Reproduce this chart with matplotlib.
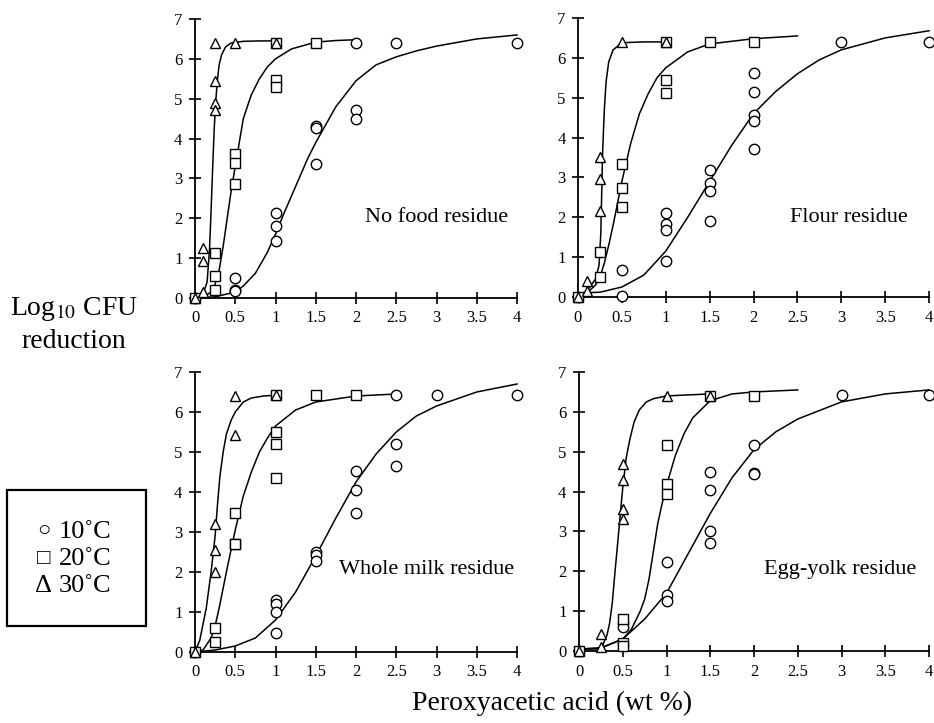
import matplotlib
matplotlib.use("Agg")
import matplotlib.pyplot as plt

plt.rcParams['font.family'] = ['Liberation Serif', 'DejaVu Serif']

# ---- No food residue ----
nf_c_x = [0, 0.5, 0.5, 0.5, 1, 1, 1, 1.5, 1.5, 1.5, 2, 2, 2, 2.5, 4]
nf_c_y = [0, 0.5, 0.21, 0.17, 2.13, 1.80, 1.42, 4.32, 4.26, 3.36, 4.72, 4.49, 6.41, 6.41, 6.41]
nf_s_x = [0, 0.25, 0.25, 0.25, 0.5, 0.5, 0.5, 1, 1, 1, 1.5]
nf_s_y = [0, 1.13, 0.54, 0.21, 3.62, 3.38, 2.86, 6.41, 5.47, 5.29, 6.41]
nf_t_x = [0, 0.1, 0.1, 0.1, 0.25, 0.25, 0.25, 0.25, 0.5, 1]
nf_t_y = [0, 1.25, 0.92, 0.14, 6.41, 5.45, 4.89, 4.72, 6.41, 6.41]
nf_cc_x = [0, 0.25, 0.5, 0.6, 0.75, 0.9, 1.0, 1.1, 1.25, 1.4, 1.5, 1.75, 2.0, 2.25, 2.5, 2.75, 3.0, 3.5, 4.0]
nf_cc_y = [0, 0.03, 0.15, 0.3, 0.62, 1.15, 1.6, 2.1, 2.8, 3.5, 3.9, 4.8, 5.45, 5.85, 6.05, 6.2, 6.32, 6.5, 6.6]
nf_sc_x = [0, 0.1, 0.2, 0.25, 0.3, 0.35, 0.4, 0.45, 0.5, 0.55, 0.6, 0.7, 0.8, 0.9, 1.0, 1.2, 1.5, 1.75, 2.0]
nf_sc_y = [0, 0.02, 0.15, 0.35, 0.7, 1.3, 2.0, 2.7, 3.3, 3.9, 4.5, 5.1, 5.5, 5.8, 6.0, 6.25, 6.42, 6.46, 6.48]
nf_tc_x = [0, 0.1, 0.15, 0.18, 0.2, 0.22, 0.24, 0.26, 0.28, 0.3, 0.33, 0.38, 0.45, 0.6, 0.8, 1.0]
nf_tc_y = [0, 0.1, 0.4, 1.2, 2.2, 3.3, 4.3, 5.0, 5.5, 5.85, 6.1, 6.3, 6.4, 6.44, 6.45, 6.45]

# ---- Flour residue ----
fl_c_x = [0, 0.5, 0.5, 1, 1, 1, 1, 1.5, 1.5, 1.5, 1.5, 2, 2, 2, 2, 2, 3, 4]
fl_c_y = [0, 0.67, 0.03, 2.10, 1.82, 1.68, 0.91, 3.19, 2.86, 2.66, 1.90, 5.63, 5.15, 4.56, 4.42, 3.72, 6.39, 6.39]
fl_s_x = [0, 0.25, 0.25, 0.5, 0.5, 0.5, 1, 1, 1, 1.5, 2]
fl_s_y = [0, 1.12, 0.50, 3.34, 2.74, 2.27, 6.39, 5.45, 5.13, 6.39, 6.39]
fl_t_x = [0, 0.1, 0.1, 0.25, 0.25, 0.25, 0.5, 1]
fl_t_y = [0, 0.40, 0.15, 3.51, 2.97, 2.17, 6.39, 6.39]
fl_cc_x = [0, 0.25, 0.5, 0.75, 1.0, 1.25, 1.5, 1.75, 2.0, 2.25, 2.5, 2.75, 3.0, 3.5, 4.0]
fl_cc_y = [0.1, 0.12, 0.25, 0.55, 1.15, 2.0, 2.9, 3.8, 4.6, 5.15, 5.6, 5.95, 6.2, 6.5, 6.68]
fl_sc_x = [0, 0.1, 0.2, 0.25, 0.3, 0.35, 0.4, 0.5, 0.6, 0.7, 0.8, 0.9, 1.0, 1.25, 1.5, 2.0, 2.5]
fl_sc_y = [0, 0.1, 0.3, 0.5, 0.85, 1.3, 1.8, 2.9, 3.85, 4.6, 5.1, 5.5, 5.75, 6.15, 6.35, 6.48, 6.55]
fl_tc_x = [0, 0.1, 0.2, 0.24, 0.26, 0.27, 0.28, 0.3, 0.32, 0.35, 0.4, 0.5, 0.75, 1.0]
fl_tc_y = [0, 0.15, 0.45, 0.8, 1.6, 2.6, 3.6, 4.7, 5.4, 5.9, 6.2, 6.38, 6.4, 6.4]

# ---- Whole milk residue ----
wm_c_x = [0, 1, 1, 1, 1, 1.5, 1.5, 1.5, 2, 2, 2, 2.5, 2.5, 2.5, 3, 4]
wm_c_y = [0, 1.31, 1.19, 1.0, 0.48, 2.5, 2.42, 2.28, 4.52, 4.06, 3.48, 6.42, 5.19, 4.64, 6.42, 6.42]
wm_s_x = [0, 0.25, 0.25, 0.5, 0.5, 0.5, 1, 1, 1, 1, 1.5, 2]
wm_s_y = [0, 0.61, 0.25, 3.47, 2.69, 2.71, 6.42, 5.5, 5.19, 4.36, 6.42, 6.42]
wm_t_x = [0, 0.25, 0.25, 0.25, 0.5, 0.5, 1]
wm_t_y = [0, 3.21, 2.54, 2.0, 6.39, 5.43, 6.42]
wm_cc_x = [0, 0.25, 0.5, 0.75, 1.0, 1.25, 1.5, 1.75, 2.0, 2.25, 2.5, 2.75, 3.0, 3.5, 4.0]
wm_cc_y = [0, 0.05, 0.15, 0.35, 0.8, 1.5, 2.4, 3.35, 4.25, 4.95, 5.5, 5.9, 6.15, 6.5, 6.7]
wm_sc_x = [0, 0.1, 0.2, 0.25, 0.3, 0.4, 0.5, 0.6, 0.7, 0.8, 0.9, 1.0, 1.25, 1.5, 2.0, 2.5]
wm_sc_y = [0, 0.05, 0.35, 0.65, 1.1, 2.1, 3.05, 3.9, 4.5, 5.0, 5.35, 5.65, 6.05, 6.25, 6.4, 6.45]
wm_tc_x = [0, 0.06, 0.1, 0.14, 0.2, 0.25, 0.28, 0.31, 0.35, 0.39, 0.45, 0.5, 0.6, 0.7, 0.85, 1.0]
wm_tc_y = [0, 0.3, 0.7, 1.1, 2.0, 2.9, 3.7, 4.4, 5.0, 5.45, 5.8, 6.0, 6.25, 6.35, 6.4, 6.42]

# ---- Egg-yolk residue ----
ey_c_x = [0, 0.5, 0.5, 1, 1, 1, 1.5, 1.5, 1.5, 1.5, 2, 2, 2, 3, 4]
ey_c_y = [0, 0.69, 0.59, 2.23, 1.40, 1.25, 4.49, 4.03, 3.01, 2.72, 5.18, 4.46, 4.43, 6.43, 6.43]
ey_s_x = [0, 0.5, 0.5, 0.5, 1, 1, 1, 1.5, 2]
ey_s_y = [0, 0.81, 0.2, 0.12, 5.18, 4.18, 3.93, 6.39, 6.39]
ey_t_x = [0, 0.25, 0.25, 0.5, 0.5, 0.5, 0.5, 1, 1.5]
ey_t_y = [0, 0.43, 0.1, 4.68, 4.28, 3.57, 3.32, 6.39, 6.39]
ey_cc_x = [0, 0.25, 0.5, 0.75, 1.0, 1.25, 1.5, 1.75, 2.0, 2.25, 2.5, 3.0, 3.5, 4.0]
ey_cc_y = [0.05, 0.07, 0.3, 0.8, 1.45, 2.45, 3.45, 4.35, 5.05, 5.5, 5.82, 6.25, 6.45, 6.55]
ey_sc_x = [0, 0.25, 0.5, 0.6, 0.7, 0.75, 0.8, 0.85, 0.9, 0.95, 1.0, 1.1, 1.2, 1.3, 1.5, 1.75, 2.0, 2.5]
ey_sc_y = [0.05, 0.08, 0.3, 0.55, 1.0, 1.3, 1.8, 2.5, 3.2, 3.7, 4.15, 4.9, 5.45, 5.85, 6.28, 6.45, 6.5, 6.55]
ey_tc_x = [0, 0.2, 0.27, 0.32, 0.35, 0.38, 0.41, 0.45, 0.5, 0.54, 0.58, 0.63, 0.69, 0.77, 0.85, 1.0, 1.5]
ey_tc_y = [0.05, 0.05, 0.14, 0.4, 0.7, 1.2, 1.95, 2.9, 4.1, 4.85, 5.3, 5.75, 6.05, 6.25, 6.33, 6.4, 6.45]

panel_names = ['No food residue', 'Flour residue', 'Whole milk residue', 'Egg-yolk residue']
label_pos = [(3.0, 2.03), (3.09, 2.0), (2.88, 2.06), (2.99, 2.04)]
xticks = [0, 0.5, 1, 1.5, 2, 2.5, 3, 3.5, 4]
xticklabels = ['0', '0.5', '1', '1.5', '2', '2.5', '3', '3.5', '4']
yticks = [0, 1, 2, 3, 4, 5, 6, 7]
legend_symbols = ['\u25CB', '\u25A1', '\u0394']
legend_labels = ['10\u02DAC', '20\u02DAC', '30\u02DAC']

panels = [
    (nf_c_x, nf_c_y, nf_s_x, nf_s_y, nf_t_x, nf_t_y, nf_cc_x, nf_cc_y, nf_sc_x, nf_sc_y, nf_tc_x, nf_tc_y),
    (fl_c_x, fl_c_y, fl_s_x, fl_s_y, fl_t_x, fl_t_y, fl_cc_x, fl_cc_y, fl_sc_x, fl_sc_y, fl_tc_x, fl_tc_y),
    (wm_c_x, wm_c_y, wm_s_x, wm_s_y, wm_t_x, wm_t_y, wm_cc_x, wm_cc_y, wm_sc_x, wm_sc_y, wm_tc_x, wm_tc_y),
    (ey_c_x, ey_c_y, ey_s_x, ey_s_y, ey_t_x, ey_t_y, ey_cc_x, ey_cc_y, ey_sc_x, ey_sc_y, ey_tc_x, ey_tc_y),
]

W, H = 934, 723
# axes boxes in pixels: left, x-axis row (y=0), width, top (y=7)
boxes = [(195, 298, 322, 19), (578, 297, 351, 18), (195, 652, 322, 372), (579, 651, 350, 372)]

fig = plt.figure(figsize=(W / 100, H / 100), dpi=100)

for (name, lp, data, box) in zip(panel_names, label_pos, panels, boxes):
    left, y0, width, y7 = box
    ax = fig.add_axes([left / W, (H - y0) / H, width / W, (y0 - y7) / H])
    cx, cy, sx, sy, tx, ty, ccx, ccy, scx, scy, tcx, tcy = data
    for lx, ly in [(ccx, ccy), (scx, scy), (tcx, tcy)]:
        ax.plot(lx, ly, color='black', lw=1.1, clip_on=False)
    kw = dict(ls='none', mfc='white', mec='black', mew=1.0, ms=7.5, clip_on=False, zorder=3)
    ax.plot(cx, cy, marker='o', **kw)
    ax.plot(sx, sy, marker='s', **kw)
    ax.plot(tx, ty, marker='^', **kw)
    ax.set_xlim(0, 4)
    ax.set_ylim(0, 7)
    ax.set_xticks(xticks)
    ax.set_xticklabels(xticklabels)
    ax.set_yticks(yticks)
    for s in ['top', 'right']:
        ax.spines[s].set_visible(False)
    for s in ['left', 'bottom']:
        ax.spines[s].set_linewidth(1.3)
    ax.tick_params(direction='inout', length=8, width=1.2, labelsize=12, pad=5)
    ax.patch.set_alpha(0)
    ax.text(lp[0], lp[1], name, ha='center', va='center', fontsize=16)

fig.text(74 / W, 1 - 309 / H, 'Log$_{10}$ CFU', ha='center', va='center', fontsize=20,
         math_fontfamily='stix')
fig.text(74 / W, 1 - 342 / H, 'reduction', ha='center', va='center', fontsize=20)
fig.text(552 / W, 1 - 703 / H, 'Peroxyacetic acid (wt %)', ha='center', va='center', fontsize=20)

# legend box
leg = plt.Rectangle((7 / W, 1 - 626 / H), 139 / W, 136 / H, transform=fig.transFigure,
                    fill=False, ec='black', lw=1.6)
fig.patches.append(leg)
for i, (sym, lab) in enumerate(zip(legend_symbols, legend_labels)):
    yy = 1 - (532 + 27 * i) / H
    fig.text(59 / W, yy, lab, ha='left', va='center', fontsize=19)
    fig.text(44 / W, yy, sym, ha='center', va='center',
             fontsize=19 if sym == '\u0394' else 16)

fig.savefig('out.png', dpi=100)
